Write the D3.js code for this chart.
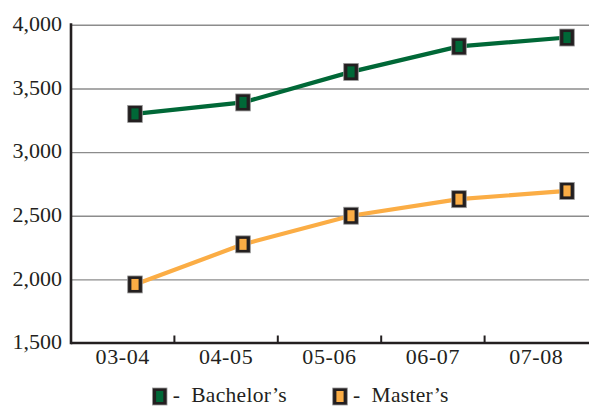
<!DOCTYPE html>
<html>
<head>
<meta charset="utf-8">
<script src="https://cdn.jsdelivr.net/npm/d3@7"></script>
<style>
  html, body { margin: 0; padding: 0; background: #fff; }
  svg text { font-family: "Liberation Serif", "DejaVu Serif", serif; fill: #231f20; }
</style>
</head>
<body>
<svg id="chart" width="589" height="407"></svg>
<script>
const categories = ["03-04", "04-05", "05-06", "06-07", "07-08"];
const bachelors = [3300, 3390, 3630, 3830, 3900];
const masters = [1960, 2275, 2500, 2630, 2695];
const yTicks = [1500, 2000, 2500, 3000, 3500, 4000];
const seriesNames = ["Bachelor\u2019s", "Master\u2019s"];
const seriesColors = ["#006837", "#fbad45"];

(function () {
const svg = d3.select("#chart");
const mLeft = 71, mRight = 588, mTop = 24.8, mBottom = 343;

const xBand = d3.scaleBand().domain(categories).range([mLeft, mRight]);
const xPt = d3.scalePoint().domain(categories).range([135, 567]);
const y = d3.scaleLinear().domain([1500, 4000]).range([mBottom, mTop]);

// gridlines
const grid = svg.append("g").attr("transform", `translate(${mLeft},0)`)
  .call(d3.axisLeft(y).tickValues(yTicks.slice(1)).tickSize(-(589 - mLeft)).tickFormat(""));
grid.select(".domain").remove();
grid.selectAll("line").attr("stroke", "#8c8c8c").attr("stroke-width", 1.4);

// y labels
svg.append("g").selectAll("text").data(yTicks).join("text")
  .attr("x", 62).attr("y", d => y(d)).attr("dy", "0.28em")
  .attr("text-anchor", "end").attr("font-size", 22)
  .text(d3.format(","));

// y axis line
svg.append("line").attr("x1", mLeft).attr("x2", mLeft).attr("y1", mTop - 1.5).attr("y2", mBottom + 1.3)
  .attr("stroke", "#231f20").attr("stroke-width", 2.6);
// x axis line
svg.append("line").attr("x1", mLeft).attr("x2", 589).attr("y1", mBottom).attr("y2", mBottom)
  .attr("stroke", "#231f20").attr("stroke-width", 2.6);
// x ticks at band boundaries
svg.append("g").selectAll("line").data(categories.slice(0, -1)).join("line")
  .attr("x1", d => xBand(d) + xBand.bandwidth()).attr("x2", d => xBand(d) + xBand.bandwidth())
  .attr("y1", mBottom).attr("y2", mBottom - 7.5)
  .attr("stroke", "#231f20").attr("stroke-width", 2);
// x labels
svg.append("g").selectAll("text").data(categories).join("text")
  .attr("x", d => xBand(d) + xBand.bandwidth() / 2).attr("y", 364)
  .attr("text-anchor", "middle").attr("font-size", 22).attr("letter-spacing", 0.6)
  .text(d => d);

function marker(g, cx, cy, color) {
  g.append("rect").attr("x", cx - 7.3).attr("y", cy - 8.5).attr("width", 14.6).attr("height", 17)
    .attr("fill", "#231f20").attr("stroke", "#9a9a9a").attr("stroke-width", 0.8);
  g.append("rect").attr("x", cx - 3.6).attr("y", cy - 5.5).attr("width", 7.2).attr("height", 11)
    .attr("fill", color);
}

const line = d3.line().x((d, i) => xPt(categories[i])).y(d => y(d));
[bachelors, masters].forEach((vals, si) => {
  svg.append("path").datum(vals).attr("d", line)
    .attr("fill", "none").attr("stroke", seriesColors[si]).attr("stroke-width", 4.2);
  const g = svg.append("g");
  vals.forEach((v, i) => marker(g, xPt(categories[i]), y(v), seriesColors[si]));
});

// legend
const legendX = [159.7, 340];
seriesNames.forEach((name, i) => {
  const g = svg.append("g");
  marker(g, legendX[i], 396.5, seriesColors[i]);
  g.append("text").attr("x", legendX[i] + 13).attr("y", 402).attr("font-size", 21.5).text("-");
  g.append("text").attr("x", legendX[i] + 31.5).attr("y", 402).attr("font-size", 21.5).attr("letter-spacing", 0.3).text(name);
});
})();
</script>
</body>
</html>
